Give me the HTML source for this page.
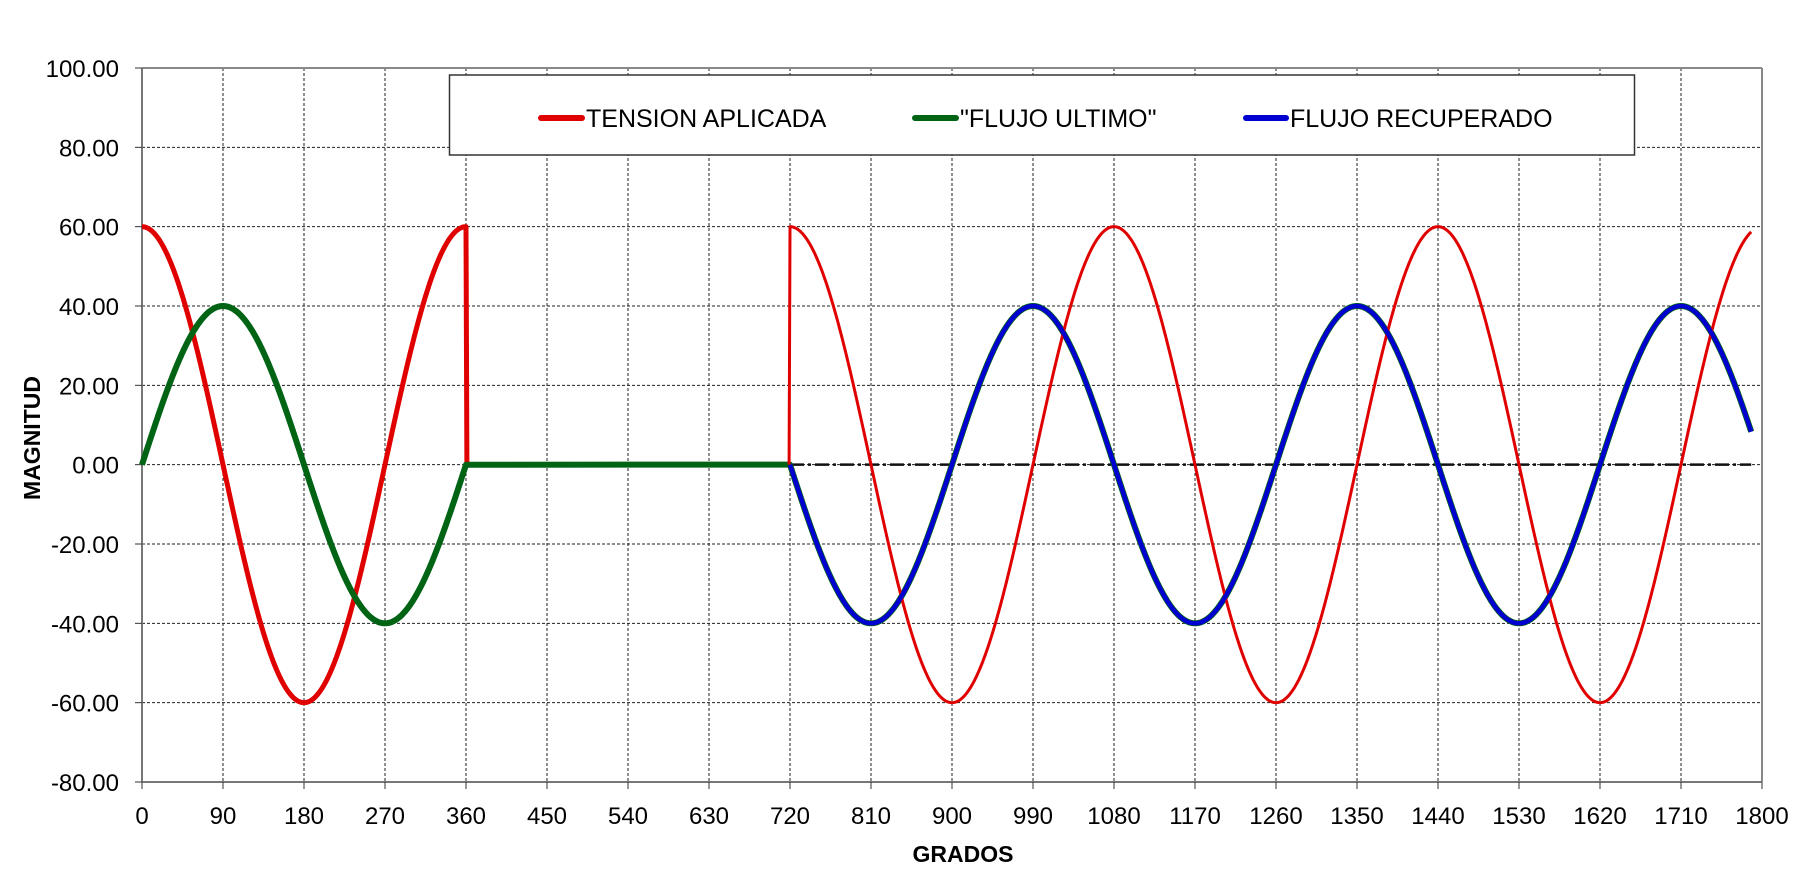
<!DOCTYPE html>
<html><head><meta charset="utf-8"><style>
body{margin:0;background:#fff}
svg{display:block}
text{font-family:"Liberation Sans",Arial,sans-serif;fill:#000}
</style></head><body>
<svg id="s" width="1805" height="875" xmlns="http://www.w3.org/2000/svg">
<rect width="1805" height="875" fill="#fff"/>
<g id="grid"></g>
<line x1="142" y1="68" x2="1762" y2="68" stroke="#888" stroke-width="2"/>
<line x1="1762" y1="68" x2="1762" y2="782" stroke="#888" stroke-width="2"/>
<line x1="142" y1="68" x2="142" y2="782" stroke="#777" stroke-width="2"/>
<line x1="142" y1="782" x2="1762" y2="782" stroke="#777" stroke-width="2"/>
<g id="lbl"></g>
<rect x="449.5" y="75" width="1185" height="80" fill="#fff" stroke="#333" stroke-width="1.5"/>
<line x1="541" y1="118" x2="582" y2="118" stroke="#e00000" stroke-width="6" stroke-linecap="round"/>
<text x="586" y="127" font-size="25">TENSION APLICADA</text>
<line x1="915" y1="118" x2="956" y2="118" stroke="#006414" stroke-width="6" stroke-linecap="round"/>
<text x="960" y="127" font-size="25">"FLUJO ULTIMO"</text>
<line x1="1246" y1="118" x2="1286" y2="118" stroke="#0000d0" stroke-width="6" stroke-linecap="round"/>
<text x="1290" y="127" font-size="25">FLUJO RECUPERADO</text>
<g id="series"></g>
<text x="963" y="862" font-size="23" font-weight="bold" text-anchor="middle">GRADOS</text>
<text transform="translate(40,438) rotate(-90)" font-size="23" font-weight="bold" text-anchor="middle">MAGNITUD</text>
</svg>
<script>
var NS="http://www.w3.org/2000/svg";
function X(d){return 142+d*0.9;}
function Y(v){return 782-(v+80)*714/180;}
function el(p,t,a,txt){var e=document.createElementNS(NS,t);for(var k in a)e.setAttribute(k,a[k]);if(txt!=null)e.textContent=txt;document.getElementById(p).appendChild(e);return e;}
for(var v=-60;v<=80;v+=20){el("grid","line",{x1:142,x2:1762,y1:Y(v),y2:Y(v),stroke:"#222","stroke-width":1,"stroke-dasharray":"3,2"});}
for(var d=90;d<1800;d+=90){el("grid","line",{x1:X(d),x2:X(d),y1:68,y2:782,stroke:"#222","stroke-width":1,"stroke-dasharray":"3,2"});}
for(var v=-80;v<=100;v+=20){el("lbl","line",{x1:135,x2:142,y1:Y(v),y2:Y(v),stroke:"#333"});el("lbl","text",{x:119,y:Y(v)+9,"font-size":24,"text-anchor":"end"},v.toFixed(2));}
for(var d=0;d<=1800;d+=90){el("lbl","line",{x1:X(d),x2:X(d),y1:782,y2:789,stroke:"#333"});el("lbl","text",{x:X(d),y:824,"font-size":24,"text-anchor":"middle"},String(d));}
var r=Math.PI/180;
function path(f,a,b,st){var s="";for(var d=a;d<=b+1e-9;d+=1){s+=(s?"L":"M")+X(d).toFixed(1)+","+Y(f(d)).toFixed(1);}return s;}
// zero dash-dot line
el("series","line",{x1:X(720),x2:X(1788),y1:Y(0),y2:Y(0),stroke:"#111","stroke-width":2.5,"stroke-dasharray":"14,4,3,4"});
// red first part
var p1=path(function(d){return 60*Math.cos(d*r);},0,360)+"L"+X(361)+","+Y(0)+"L"+X(365)+","+Y(0);
el("series","path",{d:p1,fill:"none",stroke:"#e00000","stroke-width":5,"stroke-linejoin":"round"});
// green
var g=path(function(d){return 40*Math.sin(d*r);},0,360)+"L"+X(720)+","+Y(0)+path(function(d){return -40*Math.sin(d*r);},720,1788).replace(/^M/,"L");
el("series","path",{d:g,fill:"none",stroke:"#006414","stroke-width":6,"stroke-linejoin":"round"});
// red second part
var p2="M"+X(719)+","+Y(0)+path(function(d){return 60*Math.cos(d*r);},720,1788).replace(/^M/,"L");
el("series","path",{d:p2,fill:"none",stroke:"#e00000","stroke-width":3,"stroke-linejoin":"round"});
// blue
el("series","path",{d:path(function(d){return -40*Math.sin(d*r);},720,1788),fill:"none",stroke:"#0000d0","stroke-width":4.5,"stroke-linejoin":"round"});
</script>
</body></html>
